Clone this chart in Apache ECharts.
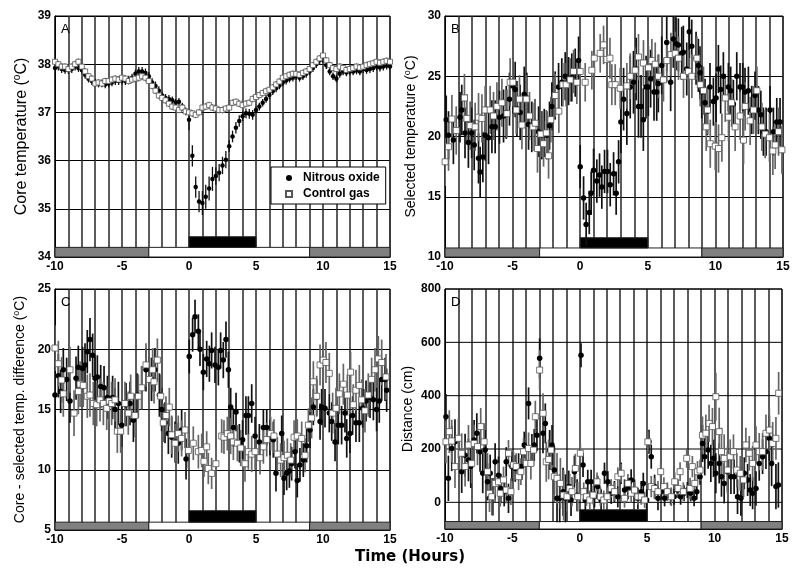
<!DOCTYPE html>
<html>
<head>
<meta charset="utf-8">
<script src="https://cdn.jsdelivr.net/npm/echarts@6/dist/echarts.min.js"></script>
<style>html,body{margin:0;padding:0;background:#fff}#c{width:800px;height:580px}</style>
</head>
<body>
<div id="c"></div>
<script>
// ---------- DATA ----------
const X_TICKS = [-10, -5, 0, 5, 10, 15];
const SERIES_NAMES = ['Nitrous oxide', 'Control gas'];
const PANEL_LABELS = ['A', 'B', 'C', 'D'];
const Y_TITLES = ['Core temperature (', 'Selected temperature (', 'Core - selected temp. difference (', 'Distance (cm)'];
const Y_TICKS_D = [0, 200, 400, 600, 800];
const LIGHT_PHASES = [[-10, -3, 'dark'], [-3, 9, 'light'], [9, 15, 'dark']];
const GAS_WINDOW = [0, 5];

// Panel A sampled every 0.25 h from -10 to 15
const HOURS_A = Array.from({length: 101}, (_, i) => -10 + i * 0.25);
const A_N2O = [37.92,37.95,37.9,37.88,37.88,37.9,37.95,37.92,37.88,37.78,
 37.7,37.65,37.62,37.6,37.6,37.58,37.6,37.62,37.65,37.65,
 37.66,37.65,37.68,37.72,37.8,37.85,37.85,37.82,37.75,37.62,
 37.55,37.45,37.35,37.3,37.28,37.25,37.2,37.22,37.12,37.02,
 36.85,36.1,35.45,35.15,35.12,35.25,35.42,35.62,35.68,35.75,
 35.9,36.02,36.3,36.5,36.68,36.82,36.92,36.98,36.97,36.95,
 37.05,37.12,37.2,37.28,37.36,37.44,37.5,37.56,37.62,37.66,
 37.7,37.72,37.75,37.72,37.75,37.8,37.85,37.92,38.0,38.08,
 38.1,37.98,37.85,37.75,37.7,37.8,37.85,37.83,37.85,37.85,
 37.87,37.85,37.9,37.88,37.9,37.92,37.95,37.93,37.95,37.97,37.95];
const A_CTRL = [38.05,38.0,37.95,37.95,37.9,37.95,38.0,38.05,37.95,37.85,
 37.75,37.7,37.6,37.62,37.6,37.65,37.65,37.68,37.7,37.68,
 37.72,37.7,37.65,37.68,37.7,37.72,37.75,37.72,37.65,37.55,
 37.45,37.35,37.3,37.25,37.18,37.12,37.1,37.05,37.1,37.02,
 37.0,36.98,36.95,37.0,37.1,37.12,37.15,37.1,37.08,37.05,
 37.05,37.08,37.1,37.2,37.22,37.18,37.15,37.18,37.2,37.28,
 37.32,37.36,37.4,37.44,37.47,37.52,37.58,37.64,37.72,37.75,
 37.78,37.8,37.8,37.78,37.82,37.85,37.9,37.98,38.05,38.12,
 38.18,38.08,37.98,37.92,37.9,37.95,37.92,37.88,37.9,37.92,
 37.95,37.93,37.95,37.98,38.0,38.02,38.05,38.03,38.05,38.07,38.05];
// hourly error (SEM) per hour from -10 to 15
const A_N2O_ERR = [0.08,0.08,0.08,0.08,0.08,0.08,0.09,0.09,0.08,0.08,0.22,0.25,0.18,0.12,0.1,0.08,0.08,0.08,0.08,0.08,0.08,0.08,0.08,0.08,0.08,0.08];
const A_CTRL_ERR = [0.07,0.07,0.07,0.07,0.07,0.07,0.08,0.07,0.07,0.07,0.07,0.07,0.07,0.07,0.07,0.07,0.07,0.07,0.07,0.07,0.07,0.07,0.07,0.07,0.07,0.07];

// Panel B [hour, selected temperature]
const B_N2O = [[-9.91,21.4],[-9.74,20.1],[-9.38,19.7],[-8.89,21.6],[-8.76,22.2],[-8.52,20.3],[-8.27,19.5],[-8.03,20.3],[-7.84,19.3],[-7.52,18.2],[-7.4,17.05],[-7.2,18.3],[-7.03,20.1],[-6.78,19.9],[-6.53,20.8],[-6.29,20.8],[-5.97,21.6],[-5.67,21.7],[-5.47,22.0],[-5.23,23.1],[-4.98,24.2],[-4.81,23.9],[-4.68,22.3],[-4.44,22.0],[-4.14,23.5],[-3.95,23.2],[-3.82,21.0],[-3.58,20.8],[-3.33,21.0],[-3.08,20.4],[-2.84,20.1],[-2.66,20.3],[-2.47,20.1],[-2.27,20.9],[-2.1,22.5],[-1.85,23.4],[-1.6,24.1],[-1.36,24.5],[-1.11,25.0],[-0.86,24.6],[-0.62,24.9],[-0.37,25.3],[-0.12,26.3],[0.0,17.5],[0.25,14.9],[0.44,12.7],[0.67,13.7],[0.81,15.3],[0.99,17.2],[1.23,16.3],[1.43,16.8],[1.6,15.8],[1.8,17.1],[2.02,17.1],[2.22,16.0],[2.47,16.9],[2.66,15.3],[2.84,17.9],[3.01,21.2],[3.21,23.1],[3.45,21.9],[3.7,24.1],[3.94,24.5],[4.14,25.6],[4.31,22.5],[4.5,22.5],[4.67,21.4],[4.87,24.1],[5.04,24.1],[5.21,24.8],[5.46,23.7],[5.66,23.7],[5.78,24.4],[6.03,25.9],[6.4,27.8],[6.69,24.5],[6.89,28.1],[7.09,27.7],[7.26,27.6],[7.51,26.9],[7.63,27.0],[7.88,25.6],[8.07,28.7],[8.25,27.5],[8.57,26.5],[8.74,25.9],[8.86,25.3],[8.99,23.7],[9.23,22.8],[9.41,22.1],[9.6,24.1],[9.85,22.9],[10.05,23.2],[10.22,25.6],[10.39,23.9],[10.59,25.0],[10.96,24.1],[11.13,23.8],[11.33,22.7],[11.58,25.0],[11.82,24.1],[12.02,24.1],[12.19,23.7],[12.44,23.8],[12.69,22.2],[12.93,23.4],[13.18,22.2],[13.36,21.8],[13.55,20.4],[13.75,20.4],[14.04,22.2],[14.29,20.4],[14.54,21.2],[14.78,21.2]];
const B_CTRL = [[-9.99,17.9],[-9.74,19.15],[-9.49,21.45],[-9.17,20.5],[-8.56,23.2],[-8.38,21.5],[-8.14,20.9],[-7.77,20.8],[-7.52,21.6],[-7.27,21.5],[-7.03,22.2],[-6.66,22.2],[-6.41,21.7],[-6.16,22.5],[-5.79,22.8],[-5.42,21.9],[-5.18,24.5],[-4.98,24.5],[-4.73,22.2],[-4.49,23.1],[-4.31,20.95],[-3.99,23.1],[-3.75,21.7],[-3.5,20.8],[-3.33,21.1],[-3.16,19.0],[-2.91,20.2],[-2.71,19.4],[-2.51,20.3],[-2.34,18.4],[-2.17,21.4],[-1.85,23.4],[-1.58,22.1],[-1.28,24.3],[-1.04,24.3],[-0.74,24.7],[-0.49,25.4],[-0.25,24.5],[0.0,25.4],[0.37,24.5],[0.86,25.5],[1.04,26.5],[1.48,26.9],[1.73,27.6],[1.97,26.4],[2.2,26.5],[2.34,24.3],[2.59,24.3],[2.96,24.0],[3.45,24.2],[3.7,25.0],[4.07,25.5],[4.31,26.6],[4.68,26.1],[5.05,25.7],[5.3,26.3],[5.55,26.0],[5.79,25.0],[6.16,24.7],[6.41,26.3],[6.71,26.8],[7.03,26.9],[7.27,26.5],[7.64,25.0],[8.01,25.4],[8.26,25.0],[8.63,26.5],[8.88,24.3],[9.12,23.8],[9.32,20.8],[9.42,22.2],[9.62,19.4],[9.99,19.2],[10.23,19.0],[10.48,19.9],[10.73,23.2],[10.97,21.6],[11.2,22.8],[11.46,20.8],[11.83,21.7],[12.08,19.7],[12.2,22.5],[12.57,21.3],[12.82,22.2],[13.07,23.8],[13.44,20.8],[13.68,20.2],[14.0,19.9],[14.25,18.8],[14.42,19.3],[14.67,20.4],[14.92,18.9]];
const B_N2O_ERR = [2.0,2.1,2.1,2.2,2.2,2.3,2.1,2.0,2.0,2.0,1.8,1.8,1.8,2.6,2.6,2.4,2.4,2.2,2.2,2.0,2.0,2.0,2.0,2.0,2.0,2.0];
const B_CTRL_ERR = [2.0,2.0,2.0,2.0,2.0,2.0,2.0,1.9,1.8,1.8,1.6,1.6,1.7,1.9,1.9,1.8,1.8,1.8,1.8,2.0,2.0,2.0,2.0,2.0,2.0,2.0];

// Panel C [hour, core - selected difference]
const C_N2O = [[-10.0,16.2],[-9.75,17.8],[-9.58,16.5],[-9.38,18.3],[-9.13,17.5],[-8.88,15.7],[-8.43,17.6],[-8.26,18.5],[-7.94,18.4],[-7.76,18.7],[-7.59,19.8],[-7.39,20.8],[-7.19,19.5],[-7.01,17.6],[-6.84,17.7],[-6.59,16.9],[-6.34,16.8],[-6.09,16.0],[-5.7,16.0],[-5.52,15.0],[-5.27,15.5],[-5.02,13.7],[-4.7,15.4],[-4.4,15.5],[-4.15,14.1],[-3.86,16.2],[-3.53,16.8],[-3.21,18.3],[-2.96,17.5],[-2.79,17.5],[-2.54,18.3],[-2.21,16.2],[-2.04,15.0],[-1.79,13.9],[-1.54,13.0],[-1.29,12.7],[-1.04,12.3],[-0.8,12.2],[-0.55,13.3],[-0.22,10.9],[0.02,19.4],[0.27,21.2],[0.45,22.7],[0.7,21.5],[0.82,20.0],[1.07,18.1],[1.32,19.2],[1.52,18.8],[1.69,19.9],[1.94,18.7],[2.19,18.5],[2.36,19.9],[2.56,19.1],[2.76,20.8],[2.94,18.3],[3.11,15.2],[3.31,13.5],[3.51,14.8],[3.76,12.2],[4.0,12.5],[4.25,14.5],[4.43,14.5],[4.68,15.5],[4.93,12.8],[5.25,12.3],[5.55,13.5],[5.8,13.5],[6.04,12.7],[6.29,12.5],[6.49,9.7],[6.92,13.0],[7.09,9.3],[7.29,9.7],[7.49,9.9],[7.66,10.5],[7.91,11.5],[8.08,9.1],[8.28,10.4],[8.53,10.8],[8.78,12.0],[9.03,13.3],[9.28,15.2],[9.53,16.0],[9.78,14.0],[9.9,15.2],[10.15,15.1],[10.47,14.7],[10.65,14.0],[10.9,12.3],[11.14,13.7],[11.39,13.7],[11.64,14.7],[11.77,12.6],[12.01,13.0],[12.21,14.5],[12.46,13.9],[12.71,13.9],[12.96,15.1],[13.21,15.7],[13.51,16.0],[13.76,15.8],[14.0,15.0],[14.2,15.7],[14.38,17.5],[14.63,17.5],[14.75,16.6]];
const C_CTRL = [[-10.0,20.1],[-9.75,18.8],[-9.5,17.45],[-9.38,16.3],[-8.88,18.3],[-8.58,14.7],[-8.26,16.5],[-8.13,17.1],[-7.89,17.0],[-7.59,16.1],[-7.39,16.2],[-7.14,15.5],[-6.89,15.4],[-6.64,15.8],[-6.39,15.5],[-6.14,15.1],[-5.95,15.7],[-5.77,15.5],[-5.52,15.8],[-5.35,13.2],[-5.1,13.2],[-4.78,15.5],[-4.53,14.7],[-4.35,16.1],[-4.03,14.5],[-3.78,16.1],[-3.53,16.8],[-3.21,18.7],[-2.96,17.5],[-2.71,18.3],[-2.61,17.3],[-2.36,19.1],[-2.11,16.1],[-1.92,13.9],[-1.72,14.5],[-1.47,15.2],[-1.29,12.9],[-1.04,12.2],[-0.8,13.0],[-0.55,12.6],[-0.3,13.3],[-0.05,11.6],[0.32,12.2],[0.7,11.5],[0.95,11.6],[1.12,10.7],[1.32,11.9],[1.44,10.1],[1.69,9.7],[2.01,10.5],[2.44,12.8],[2.61,12.7],[2.86,13.0],[3.11,12.8],[3.31,12.3],[3.61,12.2],[3.86,11.8],[4.18,10.5],[4.43,11.5],[4.68,11.3],[4.93,11.5],[5.3,11.0],[5.55,11.9],[5.8,12.5],[6.09,13.0],[6.34,12.8],[6.59,11.3],[6.84,10.8],[7.09,11.0],[7.34,11.2],[7.59,10.8],[7.84,12.7],[8.08,12.8],[8.41,12.6],[8.66,11.2],[8.91,13.7],[9.15,14.3],[9.28,17.3],[9.53,16.1],[9.78,18.7],[10.02,19.1],[10.22,18.9],[10.47,18.0],[10.72,14.7],[10.97,15.1],[11.22,16.3],[11.52,17.1],[11.82,16.2],[12.06,18.1],[12.26,15.4],[12.46,16.6],[12.71,17.0],[12.89,15.8],[13.13,14.9],[13.38,16.2],[13.63,17.5],[13.88,18.3],[14.13,19.2],[14.38,18.9],[14.7,17.7]];
const C_N2O_ERR = [1.8,1.8,1.8,1.8,1.8,1.8,1.8,1.8,1.7,1.7,1.4,1.5,1.5,1.6,1.6,1.5,1.5,1.4,1.4,1.5,1.6,1.6,1.6,1.7,1.8,1.8];
const C_CTRL_ERR = [1.9,1.9,1.8,1.8,1.8,1.8,1.8,1.8,1.6,1.5,1.4,1.3,1.4,1.5,1.5,1.4,1.4,1.4,1.4,1.7,1.7,1.7,1.7,1.8,1.9,1.9];

// Panel D [hour, distance cm]
const D_N2O = [[-9.93,321],[-9.75,90],[-9.5,202],[-9.26,227],[-8.76,115],[-8.51,177],[-8.26,159],[-8.09,134],[-7.84,234],[-7.64,259],[-7.4,190],[-7.2,109],[-7.02,196],[-6.85,77],[-6.65,109],[-6.45,21],[-6.28,152],[-6.03,102],[-5.86,52],[-5.61,40],[-5.46,152],[-5.29,15],[-5.04,134],[-4.79,127],[-4.54,134],[-4.3,134],[-4.12,215],[-3.8,371],[-3.55,196],[-3.38,215],[-3.18,252],[-2.98,540],[-2.73,259],[-2.56,296],[-2.24,196],[-2.06,215],[-1.89,121],[-1.69,15],[-1.49,15],[-1.24,40],[-1.07,15],[-0.82,59],[-0.65,9],[-0.4,115],[-0.2,27],[0.09,552],[0.24,140],[0.41,9],[0.59,77],[0.84,77],[1.09,21],[1.33,59],[1.58,9],[1.83,109],[2.08,77],[2.33,34],[2.57,40],[2.82,21],[3.07,109],[3.32,46],[3.57,52],[3.81,84],[4.06,46],[4.31,15],[4.56,40],[4.71,71],[4.96,9],[5.13,227],[5.3,171],[5.55,59],[5.8,15],[6.05,40],[6.29,15],[6.49,40],[6.74,21],[6.99,21],[7.24,46],[7.48,21],[7.73,34],[7.98,46],[8.23,34],[8.48,15],[8.68,40],[8.92,96],[9.1,221],[9.27,171],[9.52,196],[9.72,146],[9.92,165],[10.09,109],[10.34,146],[10.51,96],[10.71,71],[10.96,115],[11.21,96],[11.45,96],[11.7,21],[11.95,15],[12.2,109],[12.45,84],[12.64,46],[12.82,34],[13.07,52],[13.31,146],[13.56,171],[13.81,190],[14.06,240],[14.23,146],[14.55,59],[14.73,65]];
const D_CTRL = [[-9.93,227],[-9.68,265],[-9.5,230],[-9.26,134],[-9.0,240],[-8.76,184],[-8.51,134],[-8.26,215],[-8.02,146],[-7.84,221],[-7.59,209],[-7.35,284],[-7.1,227],[-6.85,115],[-6.7,34],[-6.53,21],[-6.28,71],[-6.03,77],[-5.9,34],[-5.66,84],[-5.46,46],[-5.29,184],[-5.11,40],[-4.92,140],[-4.72,134],[-4.54,96],[-4.37,115],[-4.17,190],[-3.97,146],[-3.8,202],[-3.63,146],[-3.43,196],[-3.3,321],[-2.98,496],[-2.73,334],[-2.49,152],[-2.31,161],[-2.14,196],[-1.89,96],[-1.69,90],[-1.44,71],[-1.2,27],[-0.95,21],[-0.75,52],[-0.58,40],[-0.33,127],[-0.15,21],[0.04,184],[0.29,40],[0.49,21],[0.74,9],[0.99,27],[1.28,77],[1.53,21],[1.78,9],[2.03,21],[2.33,52],[2.57,40],[2.82,96],[3.07,109],[3.32,15],[3.57,71],[3.81,34],[4.06,46],[4.31,21],[4.56,21],[4.81,9],[5.05,227],[5.3,59],[5.55,52],[5.8,40],[6.0,115],[6.24,59],[6.49,40],[6.79,21],[7.04,77],[7.29,52],[7.44,115],[7.68,40],[7.93,165],[8.18,52],[8.35,134],[8.53,71],[8.73,115],[8.92,121],[9.1,252],[9.35,259],[9.59,296],[9.84,284],[10.09,396],[10.34,265],[10.51,190],[10.71,165],[10.96,121],[11.16,171],[11.4,190],[11.65,121],[11.9,109],[12.15,84],[12.32,215],[12.57,184],[12.82,146],[13.07,215],[13.31,190],[13.56,190],[13.81,259],[14.06,271],[14.31,221],[14.55,240],[14.75,409]];
const D_N2O_ERR = [85,80,75,70,55,50,60,75,90,60,45,40,40,40,40,45,30,30,30,70,75,65,60,65,85,80];
const D_CTRL_ERR = [80,75,70,70,50,50,60,75,95,55,35,35,35,35,30,40,35,35,40,70,90,65,65,70,80,120];

// ---------- CHART ----------
const FONT = 'Liberation Sans, Arial, Helvetica, sans-serif';
const chart = echarts.init(document.getElementById('c'), null, {renderer: 'canvas'});

const panels = [
  {grid: {left: 55, top: 16, width: 335, height: 241}, min: 34, max: 39, interval: 1, gap: 24, titleSize: 16,
   n2o: HOURS_A.map((t, i) => [t, A_N2O[i]]), ctl: HOURS_A.map((t, i) => [t, A_CTRL[i]]),
   n2oErr: A_N2O_ERR, ctlErr: A_CTRL_ERR, phase: [34, 34.2], gas: [34.2, 34.42], sym: [4.5, 5], errW: 1.3},
  {grid: {left: 445, top: 16, width: 338, height: 241}, min: 10, max: 30, interval: 5, gap: 25, titleSize: 14,
   n2o: B_N2O, ctl: B_CTRL, n2oErr: B_N2O_ERR, ctlErr: B_CTRL_ERR, phase: [10, 10.75], gas: [10.75, 11.6], sym: [5.5, 6], errW: 1.7},
  {grid: {left: 55, top: 289, width: 335, height: 241}, min: 5, max: 25, interval: 5, gap: 26, titleSize: 14,
   n2o: C_N2O, ctl: C_CTRL, n2oErr: C_N2O_ERR, ctlErr: C_CTRL_ERR, phase: [5, 5.65], gas: [5.65, 6.6], sym: [5.5, 6], errW: 1.7},
  {grid: {left: 445, top: 289, width: 337, height: 240}, min: -100, max: 800, interval: 100, gap: 30, titleSize: 14,
   n2o: D_N2O, ctl: D_CTRL, n2oErr: D_N2O_ERR, ctlErr: D_CTRL_ERR, phase: [-100, -72], gas: [-72, -28], sym: [5.5, 6], errW: 1.7}
];

function errIndex(t) { return Math.min(25, Math.max(0, Math.floor(t + 10))); }
function errData(points, errs) {
  return points.map(p => { const e = errs[errIndex(p[0])]; return [p[0], p[1] - e, p[1] + e]; });
}
function errRenderer(color, width) {
  return function (params, api) {
    const a = api.coord([api.value(0), api.value(1)]);
    const b = api.coord([api.value(0), api.value(2)]);
    return {type: 'line', shape: {x1: a[0], y1: a[1], x2: b[0], y2: b[1]}, style: {stroke: color, lineWidth: width}};
  };
}

const grids = [], xAxes = [], yAxes = [], series = [], titles = [];
panels.forEach((p, k) => {
  grids.push(Object.assign({show: true, borderColor: '#000', borderWidth: 1, backgroundColor: 'transparent'}, p.grid));
  xAxes.push({
    type: 'value', gridIndex: k, min: -10, max: 15, interval: 1,
    axisLine: {show: true, onZero: false, lineStyle: {color: '#000', width: 1}}, axisTick: {show: false},
    splitLine: {show: true, lineStyle: {color: '#262626', width: 1.5}},
    axisLabel: {formatter: v => X_TICKS.indexOf(v) >= 0 ? String(v) : '', fontFamily: FONT, fontWeight: 'bold', fontSize: 12, color: '#000', margin: 4}
  });
  const yName = k === 3 ? '{n|' + Y_TITLES[k] + '}' : '{n|' + Y_TITLES[k] + '}{s|o}{n|C)}';
  yAxes.push({
    type: 'value', gridIndex: k, min: p.min, max: p.max, interval: p.interval,
    axisLine: {show: true, onZero: false, lineStyle: {color: '#000', width: 1}}, axisTick: {show: false},
    splitLine: {show: k !== 3, lineStyle: {color: '#000', width: 1}},
    axisLabel: {formatter: v => (k === 3 ? (Y_TICKS_D.indexOf(v) >= 0 ? String(v) : '') : String(v)), fontFamily: FONT, fontWeight: 'bold', fontSize: 12, color: '#000', margin: 4},
    name: yName, nameLocation: 'middle', nameGap: p.gap,
    nameTextStyle: {rich: {
      n: {fontFamily: FONT, fontSize: p.titleSize, color: '#000'},
      s: {fontFamily: FONT, fontSize: Math.round(p.titleSize * 0.65), color: '#000', padding: [0, 0, Math.round(p.titleSize * 0.55), 0]}
    }}
  });
  titles.push({text: PANEL_LABELS[k], left: p.grid.left + 1, top: p.grid.top + 2, textStyle: {fontFamily: FONT, fontSize: 13, fontWeight: 'normal', color: '#000'}});

  // horizontal grid lines for panel D
  if (k === 3) {
    series.push({
      type: 'custom', xAxisIndex: k, yAxisIndex: k, z: 1, silent: true,
      data: Y_TICKS_D.map(v => [v]),
      encode: {y: 0},
      renderItem: (params, api) => {
        const a = api.coord([-10, api.value(0)]), b = api.coord([15, api.value(0)]);
        return {type: 'line', shape: {x1: a[0], y1: a[1], x2: b[0], y2: b[1]}, style: {stroke: '#000', lineWidth: 1}};
      }
    });
  }
  // light / dark phase bar and gas exposure bar
  const rects = LIGHT_PHASES.map(r => [r[0], r[1], p.phase[0], p.phase[1], r[2]]).concat([[GAS_WINDOW[0], GAS_WINDOW[1], p.gas[0], p.gas[1], 'gas']]);
  series.push({
    type: 'custom', xAxisIndex: k, yAxisIndex: k, z: 1, silent: true,
    data: rects, encode: {x: [0, 1], y: [2, 3]},
    renderItem: (params, api) => {
      const r = rects[params.dataIndex];
      const a = api.coord([r[0], r[3]]), b = api.coord([r[1], r[2]]);
      const fill = r[4] === 'dark' ? '#808080' : (r[4] === 'light' ? '#ffffff' : '#000000');
      return {type: 'rect', shape: {x: a[0], y: a[1], width: b[0] - a[0], height: b[1] - a[1]}, style: {fill: fill, stroke: '#222', lineWidth: 1}};
    }
  });
  series.push({type: 'custom', xAxisIndex: k, yAxisIndex: k, z: 2, silent: true, clip: true,
    data: errData(p.n2o, p.n2oErr), encode: {x: 0, y: [1, 2]}, renderItem: errRenderer('#111', p.errW)});
  series.push({type: 'custom', xAxisIndex: k, yAxisIndex: k, z: 2, silent: true, clip: true,
    data: errData(p.ctl, p.ctlErr), encode: {x: 0, y: [1, 2]}, renderItem: errRenderer('#666', p.errW)});
  series.push({name: SERIES_NAMES[0], type: 'scatter', xAxisIndex: k, yAxisIndex: k, z: 3, data: p.n2o,
    symbol: 'circle', symbolSize: p.sym[0], itemStyle: {color: '#000', opacity: 1}, silent: true});
  series.push({name: SERIES_NAMES[1], type: 'scatter', xAxisIndex: k, yAxisIndex: k, z: 4, data: p.ctl,
    symbol: 'rect', symbolSize: p.sym[1], itemStyle: {color: '#fff', borderColor: '#555', borderWidth: 0.8, opacity: 1}, silent: true});
});

chart.setOption({
  animation: false,
  backgroundColor: '#fff',
  title: titles,
  grid: grids,
  xAxis: xAxes,
  yAxis: yAxes,
  legend: {
    data: [{name: SERIES_NAMES[0], icon: 'circle'}, {name: SERIES_NAMES[1], icon: 'rect'}],
    orient: 'vertical', left: 271, top: 167, itemWidth: 6, itemHeight: 6, itemGap: 4,
    padding: [5, 6, 4, 14], backgroundColor: '#fff', borderColor: '#000', borderWidth: 1, borderRadius: 0,
    textStyle: {fontFamily: FONT, fontWeight: 'bold', fontSize: 12, color: '#000', padding: [0, 0, 0, 6]},
    selectedMode: false
  },
  graphic: [{type: 'text', x: 410, y: 550, style: {text: 'Time (Hours)', font: 'bold 15px "DejaVu Sans", sans-serif', fill: '#000', textAlign: 'center'}}],
  series: series
});
</script>
</body>
</html>
